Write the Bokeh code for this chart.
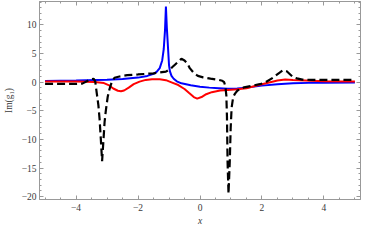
from bokeh.plotting import figure
from bokeh.models import Range1d, LinearAxis, FixedTicker
from bokeh.embed import file_html
from bokeh.resources import INLINE

# ---- data ----
blue_x = [-5.0, -4.0, -3.0, -2.5, -2.0, -1.7, -1.5, -1.4, -1.3, -1.22, -1.17, -1.13, -1.1,
          -1.07, -1.03, -1.0, -0.97, -0.92, -0.85, -0.75, -0.6, -0.3, 0.0, 0.3, 0.6, 0.9,
          1.2, 1.5, 2.0, 2.5, 3.0, 3.5, 4.0, 5.0]
blue_y = [0.22, 0.3, 0.42, 0.55, 0.8, 1.1, 1.45, 1.8, 2.45, 3.8, 5.8, 9.0, 13.2,
          9.5, 5.8, 3.0, 1.9, 1.1, 0.6, 0.15, -0.2, -0.55, -0.78, -0.95, -1.05, -1.15,
          -1.1, -0.95, -0.6, -0.35, -0.2, -0.12, -0.08, -0.05]

red_x = [-5.0, -4.0, -3.4, -3.1, -2.95, -2.8, -2.65, -2.55, -2.45, -2.3, -2.14, -1.95,
         -1.75, -1.55, -1.3, -1.1, -0.9, -0.7, -0.5, -0.35, -0.2, -0.09, 0.05, 0.2, 0.38,
         0.65, 0.9, 1.2, 1.5, 1.9, 2.2, 2.5, 2.75, 3.0, 3.4, 4.0, 5.0]
red_y = [0.1, 0.1, 0.05, -0.15, -0.5, -1.1, -1.5, -1.58, -1.45, -0.95, -0.35, 0.1,
         0.4, 0.52, 0.5, 0.35, -0.07, -0.5, -1.19, -1.9, -2.6, -2.87, -2.6, -2.1, -1.74,
         -1.46, -1.36, -1.25, -1.05, -0.5, -0.1, 0.3, 0.48, 0.4, 0.3, 0.15, 0.1]

black_x = [-5.0, -4.5, -4.0, -3.8, -3.6, -3.5, -3.43, -3.38, -3.33, -3.28, -3.24, -3.2,
           -3.16, -3.12, -3.08, -3.04, -2.98, -2.92, -2.85, -2.76, -2.6, -2.35, -2.0,
           -1.5, -1.1, -1.0, -0.9, -0.8, -0.7, -0.6, -0.5, -0.4, -0.33, -0.2, -0.07, 0.1,
           0.34, 0.6, 0.72, 0.78, 0.82, 0.85, 0.87, 0.89, 0.92, 0.96, 0.99, 1.02, 1.07,
           1.13, 1.21, 1.42, 1.7, 1.93, 2.1, 2.35, 2.55, 2.68, 2.8, 3.0, 3.13, 3.3, 3.6,
           4.0, 4.5, 5.0]
black_y = [-0.3, -0.3, -0.3, -0.25, 0.3, 0.55, 0.6, 0.1, -2.0, -4.0, -6.5, -10.0,
           -13.8, -10.5, -7.0, -5.0, -2.6, -1.2, 0.0, 0.77, 1.0, 1.22, 1.35,
           1.55, 1.85, 2.17, 2.6, 3.1, 3.6, 4.1, 3.8, 3.2, 2.45, 1.6, 1.1, 0.85,
           0.62, 0.4, 0.25, 0.0, -0.8, -2.3, -6.0, -14.0, -19.5, -14.0, -8.0, -4.5, -2.6,
           -2.0, -1.46, -0.9, -0.6, -0.35, -0.07, 0.77, 1.6, 2.1, 1.9, 0.9, 0.66, 0.45, 0.4,
           0.4, 0.4, 0.4]

x_ticks = [-4, -2, 0, 2, 4]
x_tick_labels = ["\u22124", "\u22122", "0", "2", "4"]
y_ticks = [-20, -15, -10, -5, 0, 5, 10]
y_tick_labels = ["\u221220", "\u221215", "\u221210", "\u22125", "0", "5", "10"]
x_minor = [v * 0.5 for v in range(-10, 11)]
y_minor = list(range(-20, 15))

FONT = "Liberation Serif"
FRAME = "#999999"
LABEL = "#3a3a3a"

p = figure(width=362, height=228, output_backend="svg", toolbar_location=None,
           x_range=Range1d(-5.18, 5.18), y_range=Range1d(-20.5, 14.1),
           min_border_left=34, min_border_right=2, min_border_top=1, min_border_bottom=29)
p.background_fill_color = "white"
p.border_fill_color = "white"
p.outline_line_color = FRAME
p.grid.visible = False

p.line(blue_x, blue_y, line_color="#0000ff", line_width=2)
p.line(red_x, red_y, line_color="#ff0000", line_width=2)
p.line(black_x, black_y, line_color="black", line_width=2.2, line_dash="8 4")


def style(ax, ticks, minor, labels=None):
    ax.ticker = FixedTicker(ticks=ticks, minor_ticks=minor)
    ax.axis_line_color = FRAME
    ax.major_tick_line_color = FRAME
    ax.minor_tick_line_color = FRAME
    ax.major_tick_in = 4
    ax.major_tick_out = 0
    ax.minor_tick_in = 2
    ax.minor_tick_out = 0
    ax.major_label_text_font = FONT
    ax.major_label_text_font_size = "9.5px"
    ax.major_label_text_color = LABEL
    ax.axis_label_text_font = FONT
    ax.axis_label_text_font_size = "9.5px"
    ax.axis_label_text_color = LABEL
    if labels is not None:
        ax.major_label_overrides = dict(zip(ticks, labels))


style(p.xaxis[0], x_ticks, x_minor, x_tick_labels)
p.xaxis[0].axis_label = "x"
p.xaxis[0].axis_label_text_font_style = "italic"
p.xaxis[0].major_label_standoff = 4
p.xaxis[0].axis_label_standoff = 2

style(p.yaxis[0], y_ticks, y_minor, y_tick_labels)
p.yaxis[0].axis_label = "Im(g\u2081)"
p.yaxis[0].axis_label_text_font_style = "normal"
p.yaxis[0].major_label_standoff = 3
p.yaxis[0].axis_label_standoff = 5

top = LinearAxis()
style(top, x_ticks, x_minor)
top.major_label_text_font_size = "1px"
top.major_label_text_color = None
top.major_label_standoff = 0
p.add_layout(top, "above")

right = LinearAxis()
style(right, y_ticks, y_minor)
right.major_label_text_font_size = "1px"
right.major_label_text_color = None
right.major_label_standoff = 0
p.add_layout(right, "right")

open("out.html", "w").write(file_html(p, INLINE))
